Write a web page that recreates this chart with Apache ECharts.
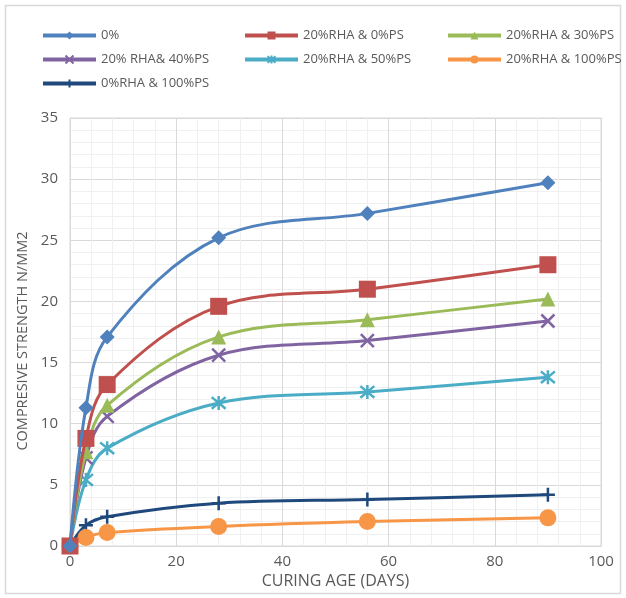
<!DOCTYPE html>
<html><head><meta charset="utf-8">
<script src="https://cdn.jsdelivr.net/npm/echarts@6/dist/echarts.min.js"></script>
<style>html,body{margin:0;padding:0;background:#fff}#c{width:626px;height:598px}</style>
</head><body><div id="c"></div>
<script>
const days = [0, 3, 7, 28, 56, 90];
const seriesNames = ['0%', '20%RHA & 0%PS', '20%RHA & 30%PS', '20% RHA& 40%PS', '20%RHA & 50%PS', '20%RHA & 100%PS', '0%RHA & 100%PS'];
const s0 = [0, 11.3, 17.1, 25.2, 27.2, 29.7];
const s1 = [0, 8.8, 13.2, 19.6, 21.0, 23.0];
const s2 = [0, 7.7, 11.5, 17.1, 18.5, 20.2];
const s3 = [0, 7.2, 10.6, 15.6, 16.8, 18.4];
const s4 = [0, 5.4, 8.0, 11.7, 12.6, 13.8];
const s5 = [0, 0.7, 1.1, 1.6, 2.0, 2.3];
const s6 = [0, 1.7, 2.4, 3.5, 3.8, 4.2];
const xTicks = [0, 20, 40, 60, 80, 100];
const yTicks = [0, 5, 10, 15, 20, 25, 30, 35];

const values = [s0, s1, s2, s3, s4, s5, s6];
const colors = ['#4F81BD', '#C0504D', '#9BBB59', '#8064A2', '#4BACC6', '#F79646', '#1F497D'];
const xPath = 'path://M0,0L10,10M10,0L0,10';
const astPath = 'path://M0,0L10,10M10,0L0,10M5,-1L5,11';
const plusPath = 'path://M5,0L5,10M0,5L10,5';
const symbols = ['diamond', 'rect', 'triangle', xPath, astPath, 'circle', plusPath];
const sizes = [15, 17, 15, 13, 14, 17, 14];
const stroked = [false, false, false, true, true, false, true];

const series = values.map((v, i) => ({
  name: seriesNames[i],
  type: 'line',
  data: days.map((d, j) => [d, v[j]]),
  smooth: 0.35,
  symbol: symbols[i],
  symbolSize: sizes[i],
  showAllSymbol: true,
  lineStyle: {color: colors[i], width: 3},
  itemStyle: stroked[i] ? {color: colors[i], borderColor: colors[i], borderWidth: 2.5} : {color: colors[i]},
  z: 10 - i
}));

const font = 'Open Sans, Liberation Sans, sans-serif';
const legBase = {
  orient: 'vertical', itemWidth: 53, itemHeight: 10, itemGap: 11,
  textStyle: {color: '#595959', fontSize: 13, fontFamily: font},
  lineStyle: {width: 4},
  itemStyle: {borderWidth: 2}
};
const chart = echarts.init(document.getElementById('c'));
chart.setOption({
  animation: false,
  backgroundColor: '#fff',
  graphic: [{type: 'rect', shape: {x: 5.5, y: 5.5, width: 615, height: 588}, style: {fill: 'none', stroke: '#d9d9d9', lineWidth: 1.5}, z: -10}],
  legend: [
    Object.assign({}, legBase, {left: 36, top: 24, data: [seriesNames[0], seriesNames[3], seriesNames[6]]}),
    Object.assign({}, legBase, {left: 238, top: 24, data: [seriesNames[1], seriesNames[4]]}),
    Object.assign({}, legBase, {left: 441, top: 24, data: [seriesNames[2], seriesNames[5]]})
  ],
  grid: {left: 70, top: 118, right: 25, bottom: 52, show: true, borderColor: '#d9d9d9', borderWidth: 1},
  xAxis: {
    type: 'value', min: xTicks[0], max: xTicks[xTicks.length - 1], interval: 20,
    name: 'CURING AGE (DAYS)', nameLocation: 'middle', nameGap: 25,
    nameTextStyle: {color: '#595959', fontSize: 16, fontFamily: font},
    axisLine: {show: true, lineStyle: {color: '#d9d9d9'}},
    axisTick: {show: false},
    axisLabel: {color: '#595959', fontSize: 15, fontFamily: font, margin: 8},
    splitLine: {show: true, lineStyle: {color: '#d9d9d9'}},
    minorTick: {show: false, splitNumber: 5},
    minorSplitLine: {show: true, lineStyle: {color: '#f0f0f0'}}
  },
  yAxis: {
    type: 'value', min: yTicks[0], max: yTicks[yTicks.length - 1], interval: 5,
    name: 'COMPRESIVE STRENGTH N/MM2', nameLocation: 'middle', nameGap: 40,
    nameTextStyle: {color: '#595959', fontSize: 14.5, fontFamily: font, padding: [0, 18, 0, 0]},
    axisLine: {show: false},
    axisTick: {show: false},
    axisLabel: {color: '#595959', fontSize: 15, fontFamily: font, margin: 12},
    splitLine: {show: true, lineStyle: {color: '#d9d9d9'}},
    minorTick: {show: false, splitNumber: 5},
    minorSplitLine: {show: true, lineStyle: {color: '#f0f0f0'}}
  },
  series: series
});
</script></body></html>
